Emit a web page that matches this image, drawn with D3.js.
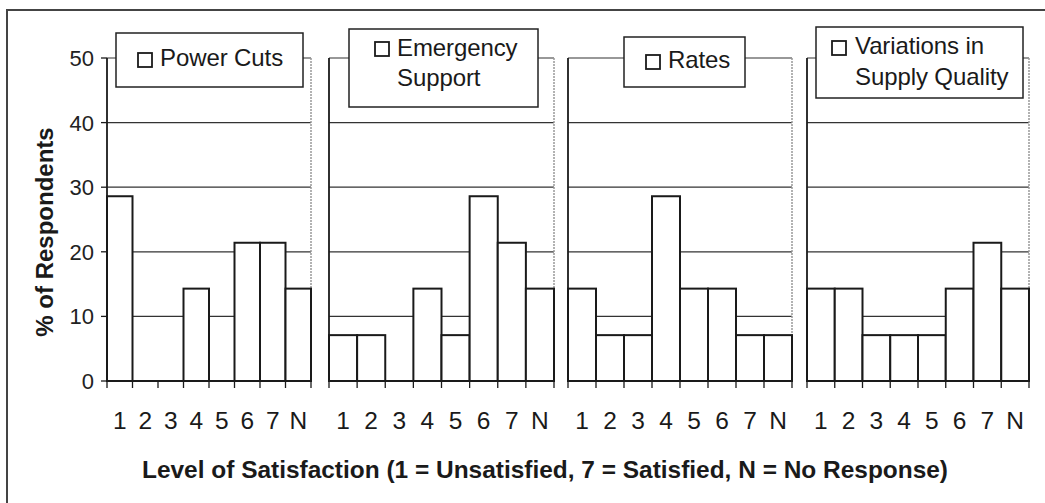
<!DOCTYPE html>
<html><head><meta charset="utf-8">
<script src="https://cdn.jsdelivr.net/npm/d3@7"></script>
<style>
html,body{margin:0;padding:0;background:#fff;}
svg{display:block;font-family:"Liberation Sans",Arial,sans-serif;}
</style></head>
<body>
<svg id="chart" width="1045" height="503"></svg>
<script>
// ---- data ----
const categories = ["1","2","3","4","5","6","7","N"];
const panelNames = ["Power Cuts","Emergency Support","Rates","Variations in Supply Quality"];
const powerCuts = [28.6, 0, 0, 14.3, 0, 21.4, 21.4, 14.3];
const emergencySupport = [7.1, 7.1, 0, 14.3, 7.1, 28.6, 21.4, 14.3];
const rates = [14.3, 7.1, 7.1, 28.6, 14.3, 14.3, 7.1, 7.1];
const supplyQuality = [14.3, 14.3, 7.1, 7.1, 7.1, 14.3, 21.4, 14.3];
const yTicks = [0, 10, 20, 30, 40, 50];
const legendLines = [["Power Cuts"], ["Emergency", "Support"], ["Rates"], ["Variations in", "Supply Quality"]];
const yTitle = "% of Respondents";
const xTitle = "Level of Satisfaction (1 = Unsatisfied, 7 = Satisfied, N = No Response)";

const series = [powerCuts, emergencySupport, rates, supplyQuality];

// ---- layout ----
const svg = d3.select("#chart");
const panelRanges = [[107, 311], [329, 554], [568, 792], [807, 1029]];
const legendBoxes = [
  {x: 116, y: 33, w: 187, h: 54, mx: 138, my: 53, tx: 160, ty: [66]},
  {x: 349, y: 29, w: 189, h: 78, mx: 375, my: 42, tx: 397, ty: [56, 86]},
  {x: 624, y: 37, w: 121, h: 50, mx: 646, my: 55, tx: 668, ty: [68]},
  {x: 816, y: 27, w: 207, h: 71, mx: 832, my: 41, tx: 855, ty: [54, 85]}
];
const y = d3.scaleLinear().domain([0, 50]).range([381, 58]);
const ink = "#1a1a1a";

// outer frame
svg.append("path").attr("d", "M7,503 V10 H1045")
  .attr("fill", "none").attr("stroke", "#444").attr("stroke-width", 2);

series.forEach((vals, i) => {
  const [x0, x1] = panelRanges[i];
  const x = d3.scaleBand().domain(categories).range([x0, x1]).padding(0);
  const g = svg.append("g");

  // gridlines
  g.selectAll("line.grid").data(yTicks.filter(t => t > 0 && t < 50)).join("line")
    .attr("x1", x0).attr("x2", x1).attr("y1", d => y(d)).attr("y2", d => y(d))
    .attr("stroke", "#333").attr("stroke-width", 1.2);

  // frame: top and right
  g.append("line").attr("x1", x0).attr("x2", x1).attr("y1", y(50)).attr("y2", y(50))
    .attr("stroke", "#333").attr("stroke-width", 1.2);
  g.append("line").attr("x1", x1).attr("x2", x1).attr("y1", y(50)).attr("y2", y(0))
    .attr("stroke", "#999").attr("stroke-width", 1.5).attr("stroke-dasharray", "2,1");

  // bars
  const data = categories.map((c, k) => ({c, v: vals[k]})).filter(d => d.v > 0);
  g.selectAll("rect.bar").data(data).join("rect")
    .attr("x", d => x(d.c)).attr("width", x.bandwidth())
    .attr("y", d => y(d.v)).attr("height", d => y(0) - y(d.v))
    .attr("fill", "#fff").attr("stroke", ink).attr("stroke-width", 2);

  // left axis line
  g.append("line").attr("x1", x0).attr("x2", x0).attr("y1", y(50)).attr("y2", y(0))
    .attr("stroke", ink).attr("stroke-width", 1.8);

  // x axis line and boundary ticks
  g.append("line").attr("x1", x0).attr("x2", x1).attr("y1", y(0)).attr("y2", y(0))
    .attr("stroke", ink).attr("stroke-width", 2);
  const bounds = categories.map(c => x(c)).concat([x1]);
  g.selectAll("line.xt").data(bounds).join("line")
    .attr("x1", d => d).attr("x2", d => d).attr("y1", y(0)).attr("y2", y(0) + 7)
    .attr("stroke", ink).attr("stroke-width", 1.3);

  // x tick labels
  g.selectAll("text.xl").data(categories).join("text")
    .attr("x", d => x(d) + x.bandwidth() / 2).attr("y", 429)
    .attr("text-anchor", "middle").attr("font-size", 24.5).attr("fill", ink)
    .text(d => d);

  // y axis ticks & labels only on first panel
  if (i === 0) {
    g.selectAll("line.yt").data(yTicks).join("line")
      .attr("x1", x0 - 6).attr("x2", x0).attr("y1", d => y(d)).attr("y2", d => y(d))
      .attr("stroke", ink).attr("stroke-width", 1.3);
    g.selectAll("text.yl").data(yTicks).join("text")
      .attr("x", x0 - 13).attr("y", d => y(d)).attr("dy", "0.36em")
      .attr("text-anchor", "end").attr("font-size", 22).attr("fill", "#222")
      .text(d => d);
  }

  // legend box
  const L = legendBoxes[i];
  g.append("rect").attr("x", L.x).attr("y", L.y).attr("width", L.w).attr("height", L.h)
    .attr("fill", "#fff").attr("stroke", "#222").attr("stroke-width", 1.5);
  g.append("rect").attr("x", L.mx).attr("y", L.my).attr("width", 14).attr("height", 14)
    .attr("fill", "#fff").attr("stroke", ink).attr("stroke-width", 1.8);
  legendLines[i].forEach((t, k) => {
    g.append("text").attr("x", L.tx).attr("y", L.ty[k])
      .attr("font-size", 24).attr("fill", ink).attr("letter-spacing", "-0.1px")
      .text(t);
  });
});

// axis titles
svg.append("text")
  .attr("transform", "translate(53,232) rotate(-90)")
  .attr("text-anchor", "middle").attr("font-size", 24).attr("font-weight", "bold")
  .attr("fill", ink).text(yTitle);

svg.append("text")
  .attr("x", 142).attr("y", 478)
  .attr("font-size", 24).attr("font-weight", "bold").attr("fill", ink)
  .attr("textLength", 806).attr("lengthAdjust", "spacingAndGlyphs")
  .text(xTitle);
</script>
</body></html>
